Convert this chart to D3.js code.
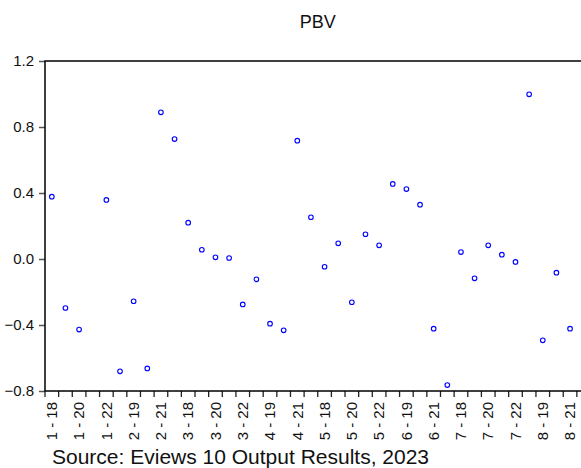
<!DOCTYPE html>
<html>
<head>
<meta charset="utf-8">
<script src="https://cdn.jsdelivr.net/npm/d3@7"></script>
<style>
  body { margin: 0; background: #fff; }
  svg { display: block; font-family: "Liberation Sans", Arial, sans-serif; }
</style>
</head>
<body>
<div id="graph"></div>
<script>
// cross sections and years of the panel
const sections = [1, 2, 3, 4, 5, 6, 7, 8];
const years = [18, 19, 20, 21, 22];
const observations = sections.flatMap(s => years.map(y => `${s} - ${y}`));

// PBV per observation (null = not shown)
const pbv = [
    0.378, -0.297, -0.428, null, 0.358,
    -0.681, -0.256, -0.663, 0.889, 0.727,
    0.220, 0.056, 0.010, 0.006, -0.275,
    -0.123, -0.392, -0.432, 0.717, 0.253,
    -0.047, 0.095, -0.262, 0.150, 0.083,
    0.455, 0.424, 0.329, -0.422, -0.764,
    0.042, -0.117, 0.083, 0.026, -0.018,
    0.998, -0.493, -0.083, -0.422, null
];

const yTicks = [-0.8, -0.4, 0.0, 0.4, 0.8, 1.2];
const xLabels = observations.filter((d, i) => i % 2 === 0);

function main() {
    const container = document.getElementById("graph");
    const svg = d3.create("svg").attr("width", 581).attr("height", 468);
    const margin = { top: 61, left: 45 };
    const plotRight = 590.5;
    const plotBottom = 391;

    const x = d3.scaleBand()
        .domain(observations)
        .range([margin.left, plotRight]);

    const y = d3.scaleLinear()
        .domain([-0.8, 1.2])
        .range([plotBottom, margin.top]);

    // titulo
    svg.append("text")
        .attr("x", (margin.left + plotRight) / 2)
        .attr("y", 28)
        .attr("text-anchor", "middle")
        .attr("font-size", 18)
        .attr("fill", "#111")
        .text("PBV");

    // eixo Y
    const gy = svg.append("g")
        .attr("transform", `translate(${margin.left},0)`)
        .call(d3.axisLeft(y).tickValues(yTicks).tickFormat(d3.format(".1f")).tickSize(6).tickPadding(5).tickSizeOuter(0));
    gy.select(".domain").remove();
    gy.selectAll("line").attr("stroke", "#555").attr("stroke-width", 1.5);
    gy.selectAll("text").attr("font-size", 15).attr("fill", "#111").attr("font-family", "Liberation Sans, Arial, sans-serif");

    // eixo X: ticks nas fronteiras das observacoes
    const boundaries = observations.map(d => x(d)).concat([plotRight]);
    svg.append("g")
        .selectAll("line")
        .data(boundaries)
        .join("line")
        .attr("x1", d => d).attr("x2", d => d)
        .attr("y1", plotBottom).attr("y2", plotBottom + 6)
        .attr("stroke", "#222")
        .attr("stroke-width", 1.3);

    svg.append("g")
        .selectAll("text")
        .data(xLabels)
        .join("text")
        .attr("transform", d => `translate(${x(d) + x.bandwidth() / 2},${plotBottom + 11}) rotate(-90)`)
        .attr("text-anchor", "end")
        .attr("dy", "0.35em")
        .attr("font-size", 15)
        .attr("fill", "#111")
        .text(d => d);

    // moldura
    svg.append("rect")
        .attr("x", margin.left)
        .attr("y", margin.top)
        .attr("width", plotRight - margin.left)
        .attr("height", plotBottom - margin.top)
        .attr("fill", "none")
        .attr("stroke", "#000")
        .attr("stroke-width", 1.5);

    // pontos
    const points = observations.map((o, i) => ({ obs: o, value: pbv[i] }))
        .filter(d => d.value !== null);

    svg.append("g")
        .selectAll("circle")
        .data(points)
        .join("circle")
        .attr("cx", d => x(d.obs) + x.bandwidth() / 2)
        .attr("cy", d => y(d.value))
        .attr("r", 2.3)
        .attr("fill", "none")
        .attr("stroke", "#0000ff")
        .attr("stroke-width", 1.1);

    // fonte
    svg.append("text")
        .attr("x", 52)
        .attr("y", 464)
        .attr("font-size", 21)
        .attr("fill", "#111")
        .text("Source: Eviews 10 Output Results, 2023");

    container.appendChild(svg.node());
}

main()
</script>
</body>
</html>
